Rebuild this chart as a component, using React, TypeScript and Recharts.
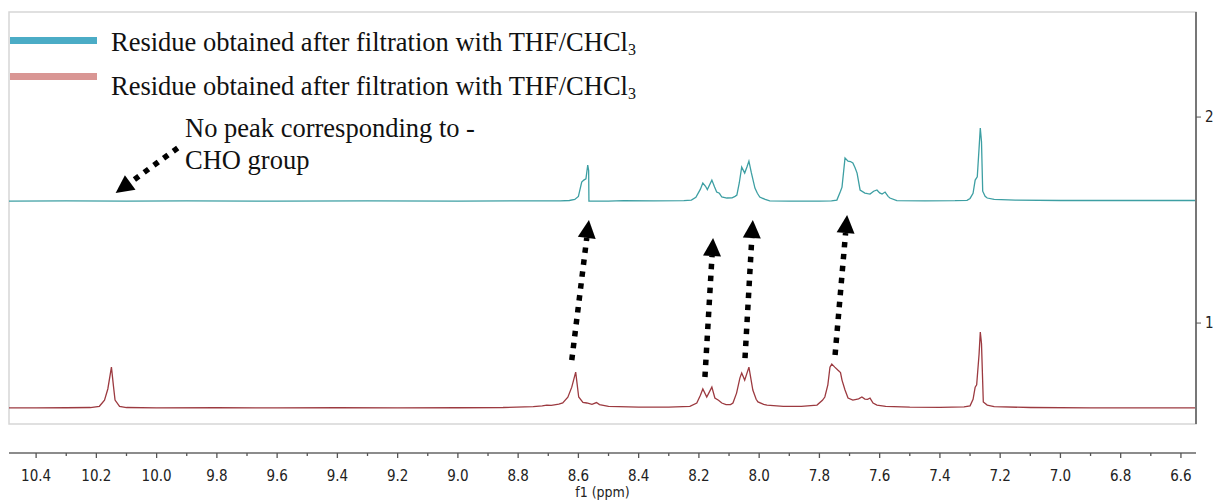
import React from "react";
import {
  ComposedChart,
  Line,
  XAxis,
  YAxis,
  ReferenceArea,
  ReferenceLine,
} from "recharts";

// spectra: [ppm, intensity on the right-hand scale]
const tealSpectrum: [number, number][] = [
  [10.49, 1.592], [10.3, 1.593], [10.1, 1.592], [9.9, 1.593], [9.6, 1.592],
  [9.3, 1.593], [9.0, 1.592], [8.8, 1.593], [8.66, 1.593], [8.63, 1.595],
  [8.612, 1.6], [8.6, 1.615], [8.589, 1.684], [8.582, 1.694], [8.575, 1.7],
  [8.569, 1.767], [8.566, 1.74], [8.565, 1.592], [8.5, 1.592], [8.45, 1.594],
  [8.35, 1.593], [8.25, 1.594], [8.225, 1.597], [8.21, 1.61], [8.195, 1.65],
  [8.187, 1.68], [8.178, 1.664], [8.172, 1.648], [8.157, 1.694], [8.148, 1.66],
  [8.141, 1.636], [8.132, 1.63], [8.124, 1.612], [8.107, 1.607], [8.09, 1.608],
  [8.08, 1.615], [8.074, 1.621], [8.066, 1.68], [8.058, 1.757], [8.052, 1.74],
  [8.048, 1.728], [8.04, 1.76], [8.034, 1.786], [8.026, 1.73], [8.014, 1.655],
  [8.006, 1.63], [7.998, 1.612], [7.98, 1.6], [7.965, 1.593], [7.9, 1.592],
  [7.8, 1.592], [7.76, 1.593], [7.742, 1.597], [7.73, 1.64], [7.725, 1.66],
  [7.715, 1.801], [7.705, 1.786], [7.697, 1.784], [7.689, 1.777], [7.682, 1.755],
  [7.675, 1.728], [7.665, 1.646], [7.649, 1.631], [7.64, 1.628], [7.632, 1.626],
  [7.62, 1.64], [7.609, 1.646], [7.6, 1.632], [7.592, 1.626], [7.582, 1.636],
  [7.572, 1.615], [7.566, 1.607], [7.543, 1.594], [7.45, 1.593], [7.35, 1.594],
  [7.31, 1.596], [7.3, 1.605], [7.29, 1.63], [7.283, 1.694], [7.276, 1.71],
  [7.27, 1.85], [7.266, 1.947], [7.262, 1.88], [7.258, 1.64], [7.25, 1.615],
  [7.243, 1.607], [7.22, 1.6], [7.15, 1.597], [7.0, 1.595], [6.85, 1.595],
  [6.7, 1.595], [6.55, 1.595],
];

const redSpectrum: [number, number][] = [
  [10.49, 0.588], [10.4, 0.588], [10.3, 0.589], [10.22, 0.59], [10.19, 0.596],
  [10.173, 0.626], [10.162, 0.68], [10.15, 0.786], [10.143, 0.69], [10.138, 0.626],
  [10.123, 0.595], [10.1, 0.59], [10.0, 0.588], [9.8, 0.589], [9.6, 0.588],
  [9.4, 0.589], [9.2, 0.588], [9.0, 0.589], [8.85, 0.59], [8.75, 0.594],
  [8.72, 0.598], [8.705, 0.602], [8.69, 0.6], [8.665, 0.606], [8.652, 0.612],
  [8.635, 0.64], [8.622, 0.689], [8.609, 0.762], [8.599, 0.641], [8.585, 0.615],
  [8.572, 0.612], [8.555, 0.605], [8.54, 0.614], [8.53, 0.604], [8.5, 0.596],
  [8.4, 0.592], [8.3, 0.592], [8.23, 0.596], [8.207, 0.612], [8.195, 0.65],
  [8.187, 0.68], [8.174, 0.641], [8.157, 0.689], [8.147, 0.636], [8.135, 0.625],
  [8.124, 0.612], [8.11, 0.604], [8.095, 0.604], [8.087, 0.612], [8.075, 0.66],
  [8.064, 0.733], [8.058, 0.757], [8.048, 0.723], [8.034, 0.786], [8.021, 0.675],
  [8.01, 0.63], [8.004, 0.617], [7.985, 0.605], [7.974, 0.602], [7.92, 0.596],
  [7.86, 0.596], [7.808, 0.602], [7.79, 0.625], [7.782, 0.641], [7.772, 0.7],
  [7.765, 0.786], [7.759, 0.801], [7.749, 0.786], [7.739, 0.772], [7.73, 0.76],
  [7.725, 0.723], [7.715, 0.675], [7.705, 0.636], [7.689, 0.626], [7.67, 0.632],
  [7.659, 0.641], [7.649, 0.631], [7.64, 0.63], [7.632, 0.636], [7.622, 0.612],
  [7.609, 0.602], [7.58, 0.596], [7.5, 0.592], [7.4, 0.591], [7.32, 0.593],
  [7.3, 0.598], [7.29, 0.63], [7.283, 0.689], [7.278, 0.7], [7.27, 0.85],
  [7.266, 0.956], [7.262, 0.9], [7.256, 0.617], [7.243, 0.602], [7.22, 0.594],
  [7.1, 0.59], [6.9, 0.588], [6.7, 0.588], [6.55, 0.588],
];

// arrows: [tail, head] as [ppm, intensity]
const shiftArrows: [number, number][][] = [
  [[8.622, 0.82], [8.565, 1.5]],
  [[8.18, 0.738], [8.153, 1.413]],
  [[8.047, 0.83], [8.021, 1.5]],
  [[7.748, 0.845], [7.708, 1.524]],
];
const noPeakArrow: [number, number][] = [[9.93, 1.85], [10.136, 1.631]];

const xTicks = [
  10.4, 10.3, 10.2, 10.1, 10.0, 9.9, 9.8, 9.7, 9.6, 9.5, 9.4, 9.3, 9.2, 9.1, 9.0,
  8.9, 8.8, 8.7, 8.6, 8.5, 8.4, 8.3, 8.2, 8.1, 8.0, 7.9, 7.8, 7.7, 7.6, 7.5, 7.4,
  7.3, 7.2, 7.1, 7.0, 6.9, 6.8, 6.7, 6.6,
];
const xLabels = [
  "10.4", "10.2", "10.0", "9.8", "9.6", "9.4", "9.2", "9.0", "8.8", "8.6",
  "8.4", "8.2", "8.0", "7.8", "7.6", "7.4", "7.2", "7.0", "6.8", "6.6",
];
const yTicks = [1, 2];

const legendItems = [
  { name: "Residue obtained after filtration with THF/CHCl", sub: "3", color: "#4bacc6" },
  { name: "Residue obtained after filtration with THF/CHCl", sub: "3", color: "#d99694" },
];
const noteLines = ["No peak corresponding to -", "CHO group"];

const X_DOMAIN = [6.55, 10.49];
const Y_DOMAIN = [0.51, 2.51];
const AXIS_FONT = "'DejaVu Sans Condensed', 'DejaVu Sans', sans-serif";
const SERIF = "'Liberation Serif', 'Times New Roman', serif";

const toPoints = (s: [number, number][]) => s.map(([ppm, v]) => ({ ppm, v }));

const XTick = (props: any) => {
  const { x, y, payload } = props;
  const label = Number(payload.value).toFixed(1);
  const major = xLabels.includes(label);
  return (
    <g>
      <line x1={x} y1={y} x2={x} y2={y + (major ? 5 : 3)} stroke="#555" strokeWidth={1.3} />
      {major && (
        <text x={x} y={y + 28} textAnchor="middle" fontSize={15} fill="#222" fontFamily={AXIS_FONT}>
          {label}
        </text>
      )}
    </g>
  );
};

const AxisTitle = (props: any) => {
  const { viewBox } = props;
  return (
    <text
      x={viewBox.x + viewBox.width / 2}
      y={viewBox.y + viewBox.height - 3}
      textAnchor="middle"
      fontSize={14}
      fill="#222"
      fontFamily={AXIS_FONT}
    >
      f1 (ppm)
    </text>
  );
};

const DottedArrow = (props: any) => {
  const { x1, y1, x2, y2 } = props;
  const len = Math.hypot(x2 - x1, y2 - y1);
  const ux = (x2 - x1) / len;
  const uy = (y2 - y1) / len;
  const bx = x2 - ux * 18;
  const by = y2 - uy * 18;
  return (
    <g>
      <line x1={x1} y1={y1} x2={bx} y2={by} stroke="#000" strokeWidth={5.5} strokeDasharray="5.5 6.5" />
      <polygon
        points={`${x2},${y2} ${bx - uy * 9},${by + ux * 9} ${bx + uy * 9},${by - ux * 9}`}
        fill="#000"
      />
    </g>
  );
};

const textStyle: React.CSSProperties = {
  position: "absolute",
  fontFamily: SERIF,
  fontSize: 26.5,
  lineHeight: "28px",
  color: "#111",
  whiteSpace: "nowrap",
};

export default function App() {
  return (
    <div style={{ position: "absolute", left: 0, top: 0, width: 1224, height: 500, background: "#fff" }}>
      <ComposedChart width={1224} height={500} margin={{ top: 12, right: 0, left: 9, bottom: 0 }}>
        {/* empty spacer axis pushes the visible one down, off the frame */}
        <XAxis
          xAxisId="a"
          type="number"
          domain={X_DOMAIN}
          reversed
          allowDataOverflow
          height={29}
          tick={false}
          tickLine={false}
          axisLine={false}
        />
        <XAxis
          xAxisId="b"
          type="number"
          dataKey="ppm"
          domain={X_DOMAIN}
          reversed
          allowDataOverflow
          height={47}
          ticks={xTicks}
          interval={0}
          tick={<XTick />}
          tickLine={false}
          tickSize={0}
          tickMargin={0}
          axisLine={{ stroke: "#666", strokeWidth: 1.5 }}
          label={{ content: <AxisTitle /> }}
        />
        <YAxis
          yAxisId="s"
          orientation="right"
          type="number"
          domain={Y_DOMAIN}
          width={5}
          tick={false}
          tickLine={false}
          axisLine={false}
        />
        <YAxis
          yAxisId="r"
          orientation="right"
          type="number"
          domain={Y_DOMAIN}
          allowDataOverflow
          width={23}
          ticks={yTicks}
          tickSize={5}
          tickMargin={4}
          tick={{ fontSize: 15, fill: "#222", fontFamily: AXIS_FONT }}
          tickLine={{ stroke: "#555" }}
          axisLine={{ stroke: "#777", strokeWidth: 2 }}
        />
        <ReferenceArea
          xAxisId="b"
          yAxisId="r"
          x1={X_DOMAIN[1]}
          x2={X_DOMAIN[0]}
          y1={Y_DOMAIN[0]}
          y2={Y_DOMAIN[1]}
          fill="none"
          stroke="#d6d6d6"
          strokeWidth={1.5}
          fillOpacity={0}
        />
        <Line
          xAxisId="b"
          yAxisId="r"
          data={toPoints(tealSpectrum)}
          dataKey="v"
          type="linear"
          stroke="#3d9fa3"
          strokeWidth={1.3}
          dot={false}
          isAnimationActive={false}
        />
        <Line
          xAxisId="b"
          yAxisId="r"
          data={toPoints(redSpectrum)}
          dataKey="v"
          type="linear"
          stroke="#9c3a40"
          strokeWidth={1.3}
          dot={false}
          isAnimationActive={false}
        />
        {[...shiftArrows, noPeakArrow].map((seg, i) => (
          <ReferenceLine
            key={i}
            xAxisId="b"
            yAxisId="r"
            segment={seg.map(([x, y]) => ({ x, y }))}
            shape={<DottedArrow />}
          />
        ))}
      </ComposedChart>

      {legendItems.map((it, i) => (
        <div key={i}>
          <div
            style={{ position: "absolute", left: 10, top: 37 + i * 36, width: 87, height: 7, background: it.color }}
          />
          <div style={{ ...textStyle, left: 111, top: 28 + i * 44 }}>
            {it.name}
            <sub style={{ fontSize: 16, verticalAlign: "-4px" }}>{it.sub}</sub>
          </div>
        </div>
      ))}
      {noteLines.map((t, i) => (
        <div key={t} style={{ ...textStyle, left: 185, top: 114 + i * 32 }}>
          {t}
        </div>
      ))}
    </div>
  );
}
